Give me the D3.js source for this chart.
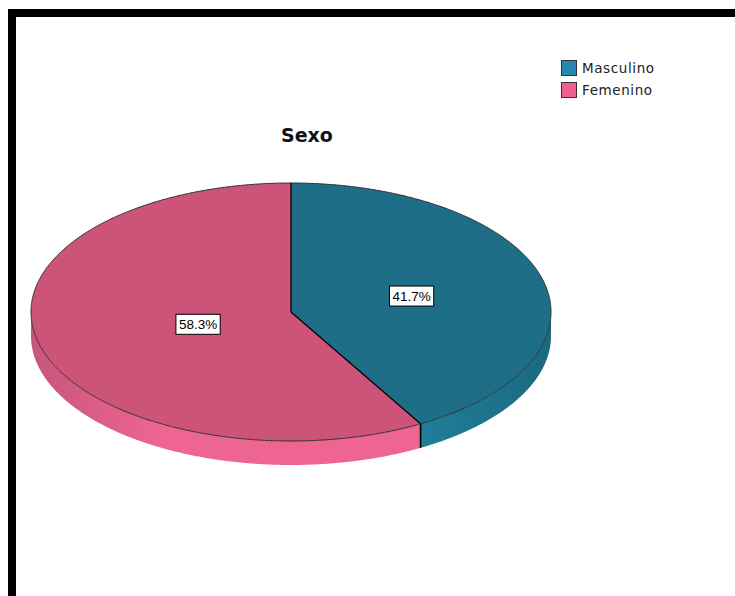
<!DOCTYPE html>
<html>
<head>
<meta charset="utf-8">
<script src="https://cdn.jsdelivr.net/npm/d3@7/dist/d3.min.js"></script>
<style>
  html, body { margin: 0; padding: 0; background: #fff; }
  svg { display: block; }
</style>
</head>
<body>
<svg id="chart" width="735" height="596"></svg>
<script>
// Data
const categories = ["Masculino", "Femenino"];
const percentages = [41.7, 58.3];
const title = "Sexo";

// Colours per category: top face, side wall, legend swatch
const topColors = ["#1f6e88", "#cc5479"];
const sideColors = ["#1f7e98", "#ee6592"];
const swatchColors = ["#2487ad", "#f0608f"];

const W = 735, H = 596;
const svg = d3.select("#chart");

// Frame
svg.append("rect").attr("x", 8).attr("y", 9).attr("width", W - 8).attr("height", 8).attr("fill", "#000");
svg.append("rect").attr("x", 8).attr("y", 9).attr("width", 8).attr("height", H - 9).attr("fill", "#000");

// Title
svg.append("text")
  .attr("x", 307).attr("y", 142)
  .attr("text-anchor", "middle")
  .attr("font-family", "DejaVu Sans, Verdana, sans-serif")
  .attr("font-weight", "bold")
  .attr("font-size", 19)
  .attr("fill", "#111")
  .text(title);

// Ellipse geometry (unit circle -> pixels)
const cx = 291, cy = 312, rx = 260, ry = 129, depth = 24;
const xS = d3.scaleLinear().domain([-1, 1]).range([cx - rx, cx + rx]);
const yS = d3.scaleLinear().domain([-1, 1]).range([cy + ry, cy - ry]);
const pt = (a, r = 1, dy = 0) => [xS(r * Math.sin(a)), yS(r * Math.cos(a)) + dy];

const arcs = d3.pie().sort(null).value(d => d)
  .startAngle(0).endAngle(2 * Math.PI)(percentages);

const step = 0.005;
const sample = (a0, a1) => {
  const n = Math.max(2, Math.ceil((a1 - a0) / step));
  return d3.range(n + 1).map(i => a0 + (a1 - a0) * i / n);
};
const line = d3.line();

// Side-wall shading
const defs = svg.append("defs");
arcs.forEach((d, i) => {
  const g = defs.append("linearGradient")
    .attr("id", "side" + i)
    .attr("gradientUnits", "userSpaceOnUse")
    .attr("x1", cx - rx).attr("x2", cx + rx).attr("y1", 0).attr("y2", 0);
  const c = d3.color(sideColors[i]);
  g.append("stop").attr("offset", "0%").attr("stop-color", c.darker(0.5));
  g.append("stop").attr("offset", "25%").attr("stop-color", c);
  g.append("stop").attr("offset", "75%").attr("stop-color", c);
  g.append("stop").attr("offset", "100%").attr("stop-color", c.darker(0.5));
});

// Side walls (front half only)
const sides = svg.append("g");
arcs.forEach((d, i) => {
  const a = Math.max(d.startAngle, Math.PI / 2);
  const b = Math.min(d.endAngle, 3 * Math.PI / 2);
  if (a >= b) return;
  const angs = sample(a, b);
  const pts = angs.map(t => pt(t)).concat(angs.slice().reverse().map(t => pt(t, 1, depth)));
  sides.append("path")
    .attr("d", line(pts) + "Z")
    .attr("fill", `url(#side${i})`)
    .attr("stroke", "none");
});

// Vertical edges where slices meet on the front wall
arcs.forEach(d => {
  [d.startAngle, d.endAngle].forEach(t => {
    if (t > Math.PI / 2 && t < 3 * Math.PI / 2) {
      const p = pt(t);
      sides.append("line")
        .attr("x1", p[0]).attr("y1", p[1])
        .attr("x2", p[0]).attr("y2", p[1] + depth)
        .attr("stroke", "#000").attr("stroke-width", 1.3);
    }
  });
});

// Top faces
const tops = svg.append("g");
arcs.forEach((d, i) => {
  const pts = [[cx, cy]].concat(sample(d.startAngle, d.endAngle).map(t => pt(t)));
  tops.append("path")
    .attr("d", line(pts) + "Z")
    .attr("fill", topColors[i])
    .attr("stroke", "none");
});

// Rim outline
tops.append("path")
  .attr("d", line(sample(0, 2 * Math.PI).map(t => pt(t))) + "Z")
  .attr("fill", "none")
  .attr("stroke", "#2b2b2b")
  .attr("stroke-width", 1);

// Radial boundaries between slices
arcs.forEach(d => {
  const p = pt(d.startAngle);
  tops.append("line")
    .attr("x1", cx).attr("y1", cy)
    .attr("x2", p[0]).attr("y2", p[1])
    .attr("stroke", "#000").attr("stroke-width", 1.3);
});

// Percentage labels in boxes
const labelRadius = [0.48, 0.37];
const labels = svg.append("g")
  .attr("font-family", "Liberation Sans, Arial, sans-serif")
  .attr("font-size", 13.5);
arcs.forEach((d, i) => {
  const mid = (d.startAngle + d.endAngle) / 2;
  const p = pt(mid, labelRadius[i]);
  const txt = d3.format(".1f")(d.value) + "%";
  const g = labels.append("g").attr("transform", `translate(${p[0]},${p[1]})`);
  const t = g.append("text")
    .attr("text-anchor", "middle")
    .attr("dy", "0.36em")
    .attr("fill", "#000")
    .text(txt);
  const bb = t.node().getBBox();
  g.insert("rect", "text")
    .attr("x", bb.x - 3).attr("y", -10)
    .attr("width", bb.width + 6).attr("height", 20)
    .attr("fill", "#fff")
    .attr("stroke", "#000").attr("stroke-width", 1);
});

// Legend
const legend = svg.append("g").attr("transform", "translate(561,60)");
categories.forEach((c, i) => {
  const g = legend.append("g").attr("transform", `translate(0,${i * 22})`);
  g.append("rect")
    .attr("x", 0.5).attr("y", 0.5).attr("width", 15).attr("height", 15)
    .attr("fill", swatchColors[i])
    .attr("stroke", "#333").attr("stroke-width", 1);
  g.append("text")
    .attr("x", 21).attr("y", 13)
    .attr("font-family", "DejaVu Sans, Verdana, sans-serif")
    .attr("font-size", 13.5)
    .attr("letter-spacing", 0.6)
    .attr("fill", "#222")
    .text(c);
});
</script>
</body>
</html>
